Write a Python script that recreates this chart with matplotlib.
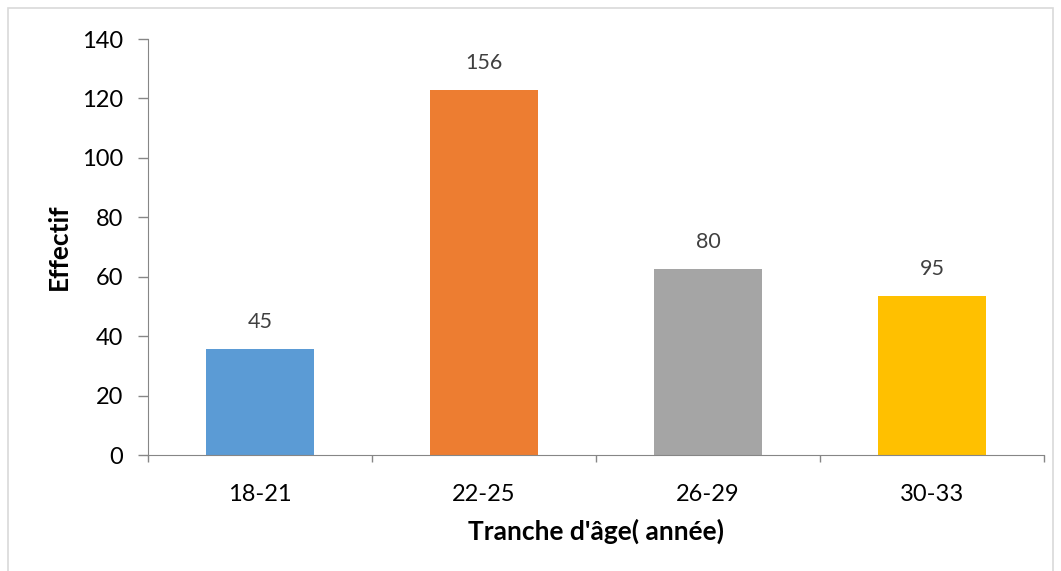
import matplotlib.pyplot as plt
from matplotlib.patches import Rectangle

# -----------------------------------------------------------------------------
# Data

categories = ["18-21", "22-25", "26-29", "30-33"]
bar_heights = [35.7, 122.8, 62.6, 53.5]
bar_labels = ["45", "156", "80", "95"]
colors = ["#5B9BD5", "#ED7D31", "#A5A5A5", "#FFC000"]

# -----------------------------------------------------------------------------
# Plot

plt.rcParams['font.family'] = ['Lato', 'DejaVu Sans']

fig = plt.figure(figsize=(10.61, 5.71), dpi=100)
ax = fig.add_axes([148 / 1061, 116 / 571, 896 / 1061, 416 / 571])

# light frame around the chart area
fig.patches.append(Rectangle((8 / 1061, -0.01), 1045 / 1061, 1.01 - 8 / 571,
                             transform=fig.transFigure, fill=False,
                             edgecolor="#D9D9D9", linewidth=1.2))

x = range(len(categories))
bars = ax.bar(x, bar_heights, width=0.48, color=colors, zorder=2)

for rect, lab in zip(bars, bar_labels):
    ax.annotate(lab, (rect.get_x() + rect.get_width() / 2, rect.get_height()),
                xytext=(0, 27), textcoords="offset pixels",
                ha="center", va="center", fontsize=15.5, color="#404040")

ax.set_xlim(-0.5, len(categories) - 0.5)
ax.set_ylim(0, 140)
ax.set_yticks(range(0, 141, 20))
ax.set_xticks([i - 0.5 for i in range(len(categories) + 1)], minor=False)
ax.set_xticklabels([])
ax.set_xticks(list(x), minor=True)
ax.set_xticklabels(categories, minor=True)

ax.tick_params(axis="x", which="major", length=5, color="#868686", width=1)
ax.tick_params(axis="x", which="minor", length=0, labelsize=17, pad=21)
ax.tick_params(axis="y", length=7, color="#868686", width=1, labelsize=17, pad=11)

for side in ["top", "right"]:
    ax.spines[side].set_visible(False)
for side in ["left", "bottom"]:
    ax.spines[side].set_color("#868686")

ax.set_xlabel("Tranche d'âge( année)", fontsize=19, fontweight="bold", labelpad=10)
ax.set_ylabel("Effectif", fontsize=19, fontweight="bold", labelpad=8)

fig.savefig("out.png", dpi=100)
